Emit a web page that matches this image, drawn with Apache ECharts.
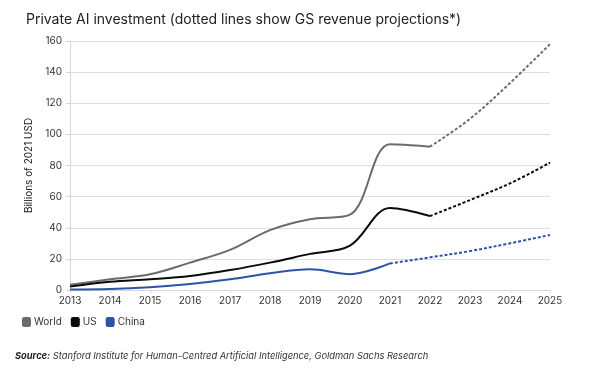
<!DOCTYPE html>
<html><head><meta charset="utf-8">
<script src="https://cdn.jsdelivr.net/npm/echarts@6/dist/echarts.min.js"></script>
<style>html,body{margin:0;padding:0;background:#fff}#c{width:600px;height:378px}</style>
</head><body><div id="c"></div>
<script>
const years = [2013,2014,2015,2016,2017,2018,2019,2020,2021,2022,2023,2024,2025];
const worldActual = [3.3,6.9,10.1,17.6,25.8,38.5,45.5,48.4,93.6,92.1];
const worldProj = [92.1,110,133,158];
const usActual = [2.2,5.3,6.9,9.0,12.8,17.6,23.2,28.5,52.7,47.5];
const usProj = [47.5,57.8,68.5,81.8];
const chinaActual = [0.3,0.6,1.8,3.9,6.9,10.8,13.3,10.2,17.1];
const chinaProj = [17.1,21,25,30,35.4];
const yTicks = [0,20,40,60,80,100,120,140,160];

function pairs(startIdx, vals){ return vals.map((v,i)=>[years[startIdx+i], v]); }

const font = 'Inter, "Noto Sans", sans-serif';
const chart = echarts.init(document.getElementById('c'));
const colors = {World:'#6b6b6b', US:'#0a0a0a', China:'#2c53a8'};
function solid(name, data){ return {name, type:'line', data, smooth:0.35, symbol:'none', lineStyle:{width:2, color:colors[name]}, itemStyle:{color:colors[name]}}; }
function dotted(name, data){ return {name, type:'line', data, smooth:0.35, symbol:'none', lineStyle:{width:2, type:[3,2], color:colors[name]}, itemStyle:{color:colors[name]}}; }

chart.setOption({
  animation:false,
  textStyle:{fontFamily:font},
  title:{text:'Private AI investment (dotted lines show GS revenue projections*)', left:21, top:8,
    textStyle:{fontFamily:font, fontSize:14, fontWeight:'normal', color:'#222'}},
  grid:{left:70, right:50, top:41, bottom:88},
  legend:{left:17, top:312, icon:'roundRect', itemWidth:9, itemHeight:10, itemGap:9,
    textStyle:{fontFamily:font, fontSize:10, color:'#333', padding:[0,0,0,-2]}, data:['World','US','China']},
  xAxis:{type:'value', min:2013, max:2025, interval:1,
    axisLine:{lineStyle:{color:'#d6d6d6'}}, axisTick:{show:true, length:3, lineStyle:{color:'#d6d6d6'}},
    splitLine:{show:false},
    axisLabel:{color:'#333', fontSize:10, margin:6, formatter:v=>String(v)}},
  yAxis:{type:'value', min:0, max:160, interval:20,
    name:'Billions of 2021 USD', nameLocation:'middle', nameGap:27, nameRotate:90,
    nameTextStyle:{color:'#222', fontSize:10},
    axisLine:{show:true, lineStyle:{color:'#d6d6d6'}}, axisTick:{show:true, length:4, lineStyle:{color:'#d6d6d6'}},
    splitLine:{lineStyle:{color:'#dedede'}},
    axisLabel:{color:'#333', fontSize:10, margin:8, customValues:yTicks}},
  series:[
    solid('World', pairs(0, worldActual)),
    dotted('World', pairs(9, worldProj)),
    solid('US', pairs(0, usActual)),
    dotted('US', pairs(9, usProj)),
    solid('China', pairs(0, chinaActual)),
    dotted('China', pairs(8, chinaProj))
  ],
  graphic:[{type:'text', left:15, top:352, style:{
    text:'{b|Source:} Stanford Institute for Human-Centred Artificial Intelligence, Goldman Sachs Research',
    rich:{b:{fontWeight:'bold', fontStyle:'italic', fontSize:9.3, fontFamily:font, fill:'#222'}},
    fontStyle:'italic', fontSize:9.3, fontFamily:font, fill:'#333'}}]
});
</script></body></html>
